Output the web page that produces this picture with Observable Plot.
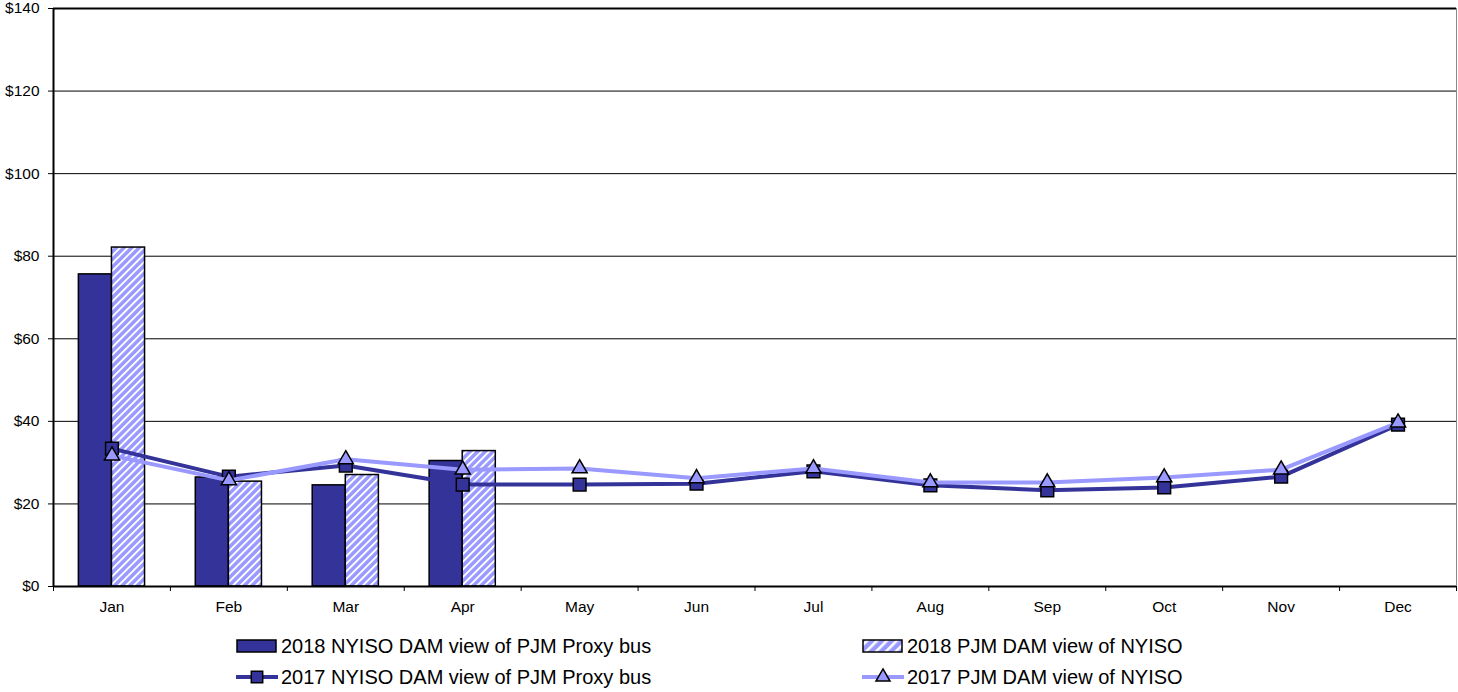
<!DOCTYPE html>
<html>
<head>
<meta charset="utf-8">
<script src="https://cdn.jsdelivr.net/npm/d3@7"></script>
<script src="https://cdn.jsdelivr.net/npm/@observablehq/plot@0.6"></script>
<style>
  body { margin: 0; background: #fff; font-family: "Liberation Sans", Arial, sans-serif; }
  #wrap { position: relative; width: 1458px; height: 692px; }
  .leg { position: absolute; display: flex; align-items: center; font-size: 20px; color: #000; white-space: nowrap; }
  .leg svg { display: block; margin-right: 3px; }
</style>
</head>
<body>
<div id="wrap"></div>
<script>
const months = ["Jan","Feb","Mar","Apr","May","Jun","Jul","Aug","Sep","Oct","Nov","Dec"];
const nyiso2018 = [75.6, 26.4, 24.5, 30.4];
const pjm2018 = [82.1, 25.4, 27.0, 32.8];
const nyiso2017 = [33.4, 26.6, 29.3, 24.7, 24.7, 24.9, 27.9, 24.5, 23.3, 24.0, 26.6, 39.2];
const pjm2017 = [31.7, 25.7, 30.8, 28.3, 28.6, 26.2, 28.6, 25.2, 25.2, 26.4, 28.3, 39.7];
const yTicks = [0, 20, 40, 60, 80, 100, 120, 140];
const seriesNames = ["2018 NYISO DAM view of PJM Proxy bus", "2018 PJM DAM view of NYISO",
                     "2017 NYISO DAM view of PJM Proxy bus", "2017 PJM DAM view of NYISO"];

const DARK = "#333399", LIGHT = "#9999FF";
const bw = 0.283;
const bars18a = nyiso2018.map((v, i) => ({i, v}));
const bars18b = pjm2018.map((v, i) => ({i, v}));
const l17a = nyiso2017.map((v, i) => ({i, v}));
const l17b = pjm2017.map((v, i) => ({i, v}));
const bounds = d3.range(0, 13);
const centers = months.map((m, i) => i + 0.5);

const chart = Plot.plot({
  width: 1458,
  height: 625,
  marginLeft: 53,
  marginRight: 2,
  marginTop: 8,
  marginBottom: 39,
  style: {fontFamily: "'Liberation Sans', Arial, sans-serif", fontSize: "15.5px", color: "#000", background: "#fff"},
  x: {type: "linear", domain: [0, 12]},
  y: {domain: [0, 140]},
  marks: [
    Plot.ruleY(yTicks.filter(d => d > 0 && d < 140), {stroke: "#000", strokeWidth: 1}),
    Plot.ruleX([12], {stroke: "#888", strokeWidth: 1}),
    Plot.rectY(bars18a, {x1: d => d.i + 0.5 - bw, x2: d => d.i + 0.5, y1: 0, y2: "v", fill: DARK, stroke: "#000", strokeWidth: 1.5}),
    Plot.rectY(bars18b, {x1: d => d.i + 0.5, x2: d => d.i + 0.5 + bw, y1: 0, y2: "v", fill: "url(#hatch)", stroke: "#000", strokeWidth: 1.5}),
    Plot.line(l17a, {x: d => d.i + 0.5, y: "v", stroke: DARK, strokeWidth: 4}),
    Plot.dot(l17a, {x: d => d.i + 0.5, y: "v", symbol: "square", r: 7.2, fill: DARK, stroke: "#000", strokeWidth: 1.5}),
    Plot.line(l17b, {x: d => d.i + 0.5, y: "v", stroke: LIGHT, strokeWidth: 4}),
    Plot.dot(l17b, {x: d => d.i + 0.5, y: "v", symbol: "triangle", r: 5.6, fill: LIGHT, stroke: "#000", strokeWidth: 1.5}),
    Plot.ruleY([140], {stroke: "#000", strokeWidth: 2}),
    Plot.ruleY([0], {stroke: "#000", strokeWidth: 2}),
    Plot.ruleX([0], {stroke: "#000", strokeWidth: 2}),
    Plot.axisY({ticks: yTicks, tickSize: 5, tickPadding: 9, tickFormat: d => "$" + d, label: null, tickStroke: "#000"}),
    Plot.axisX({ticks: bounds, tickSize: 5, tickFormat: () => "", label: null}),
    Plot.axisX({ticks: centers, tickSize: 0, tickPadding: 14, tickFormat: d => months[Math.round(d - 0.5)], label: null})
  ]
});

// hatch pattern
const defs = d3.select(chart).insert("defs", ":first-child");
const pat = defs.append("pattern").attr("id", "hatch").attr("patternUnits", "userSpaceOnUse")
  .attr("width", 5.4).attr("height", 5.4).attr("patternTransform", "rotate(45)");
pat.append("rect").attr("width", 5.4).attr("height", 5.4).attr("fill", LIGHT);
pat.append("rect").attr("width", 1.9).attr("height", 5.4).attr("fill", "#fff");

const wrap = document.getElementById("wrap");
wrap.appendChild(chart);
chart.style.position = "absolute"; chart.style.left = "0"; chart.style.top = "0";

function legendItem(x, yc, kind, text) {
  const div = document.createElement("div");
  div.className = "leg";
  div.style.left = x + "px";
  div.style.top = (yc - 12) + "px";
  div.style.height = "24px";
  const s = d3.create("svg").attr("width", 42).attr("height", 24);
  if (kind === "barDark") {
    s.append("rect").attr("x", 1).attr("y", 6).attr("width", 39).attr("height", 12).attr("fill", DARK).attr("stroke", "#000").attr("stroke-width", 1.5);
  } else if (kind === "barHatch") {
    const d2 = s.append("defs").append("pattern").attr("id", "hatch2").attr("patternUnits", "userSpaceOnUse")
      .attr("width", 7).attr("height", 7).attr("patternTransform", "rotate(45)");
    d2.append("rect").attr("width", 7).attr("height", 7).attr("fill", LIGHT);
    d2.append("rect").attr("width", 2.6).attr("height", 7).attr("fill", "#fff");
    s.append("rect").attr("x", 1).attr("y", 6).attr("width", 39).attr("height", 12).attr("fill", "url(#hatch2)").attr("stroke", "#000").attr("stroke-width", 1.5);
  } else if (kind === "lineSq") {
    s.append("line").attr("x1", 0).attr("x2", 42).attr("y1", 12).attr("y2", 12).attr("stroke", DARK).attr("stroke-width", 4);
    s.append("path").attr("transform", "translate(21,12)").attr("d", d3.symbol(d3.symbolSquare, 130)()).attr("fill", DARK).attr("stroke", "#000").attr("stroke-width", 1.5);
  } else {
    s.append("line").attr("x1", 0).attr("x2", 42).attr("y1", 12).attr("y2", 12).attr("stroke", LIGHT).attr("stroke-width", 4);
    s.append("path").attr("transform", "translate(21,12)").attr("d", d3.symbol(d3.symbolTriangle, 85)()).attr("fill", LIGHT).attr("stroke", "#000").attr("stroke-width", 1.5);
  }
  div.appendChild(s.node());
  const t = document.createElement("span");
  t.textContent = text;
  div.appendChild(t);
  wrap.appendChild(div);
}
legendItem(236, 646, "barDark", seriesNames[0]);
legendItem(862, 646, "barHatch", seriesNames[1]);
legendItem(236, 677, "lineSq", seriesNames[2]);
legendItem(862, 677, "lineTri", seriesNames[3]);
</script>
</body>
</html>
